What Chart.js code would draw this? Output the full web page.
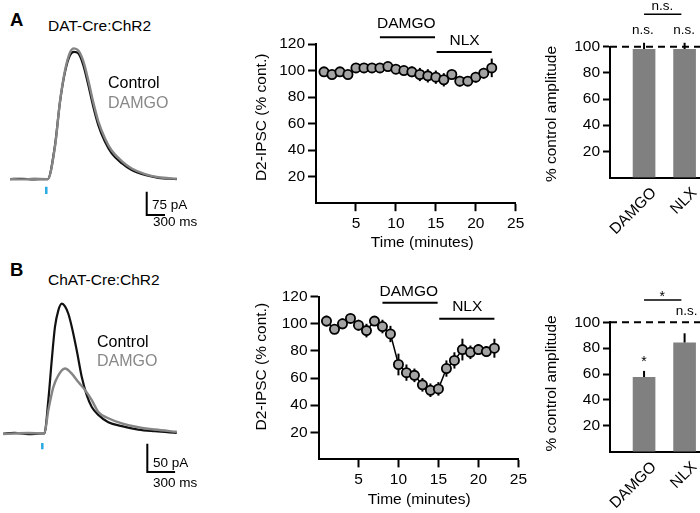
<!DOCTYPE html>
<html lang="en">
<head>
<meta charset="UTF-8">
<title>D2-IPSC DAMGO / NLX</title>
<script src="https://cdn.jsdelivr.net/npm/chart.js"></script>
<style>
  body { margin: 0; background: #fff; }
  #wrap { position: relative; width: 700px; height: 513px; overflow: hidden; font-family: "Liberation Sans", Arial, Helvetica, sans-serif; }
  canvas { position: absolute; }
  .lbl { position: absolute; white-space: nowrap; line-height: 1; transform: translateY(-50%); color: #000; }
  .letter { font-weight: bold; font-size: 18.5px; }
  .sub { font-size: 15.5px; }
  .leg { font-size: 16px; }
  .sc { font-size: 13.5px; }
  .grey { color: #888; }
</style>
</head>
<body>
<div id="wrap">
  <canvas id="traceA" width="200" height="190" style="left:0;top:40px"></canvas>
  <canvas id="timeA" width="290" height="256" style="left:240px;top:0"></canvas>
  <canvas id="barA" width="170" height="260" style="left:530px;top:0"></canvas>
  <canvas id="traceB" width="200" height="200" style="left:0;top:290px"></canvas>
  <canvas id="timeB" width="290" height="253" style="left:240px;top:260px"></canvas>
  <canvas id="barB" width="170" height="253" style="left:530px;top:260px"></canvas>

  <div class="lbl letter" style="left:10px;top:20px">A</div>
  <div class="lbl sub" style="left:48px;top:26px">DAT-Cre:ChR2</div>
  <div class="lbl leg" style="left:108px;top:83px">Control</div>
  <div class="lbl leg grey" style="left:108px;top:103px">DAMGO</div>
  <div class="lbl sc" style="left:152px;top:205px">75 pA</div>
  <div class="lbl sc" style="left:153px;top:222px">300 ms</div>

  <div class="lbl letter" style="left:10px;top:270px">B</div>
  <div class="lbl sub" style="left:48px;top:280px">ChAT-Cre:ChR2</div>
  <div class="lbl leg" style="left:97px;top:342px">Control</div>
  <div class="lbl leg grey" style="left:97px;top:361px">DAMGO</div>
  <div class="lbl sc" style="left:153px;top:463px">50 pA</div>
  <div class="lbl sc" style="left:153px;top:483px">300 ms</div>
</div>
<script>
// ---- data ----
// example traces (time in ms from light pulse, current in pA)
const ctrlA_t = [-595, -400, -200, 0, 23, 143, 225, 307, 389, 454, 525, 607, 689, 771, 853, 963, 1073, 1237, 1401, 1619, 1837, 2139];
const ctrlA   = [0, 1, -1, 0, 0, 109, 249, 345, 399, 410, 405, 367, 303, 233, 174, 120, 83, 51, 29, 13, 4, 0];
const damgoA  = [0, -1, 1, 0, 0, 105, 250, 350, 408, 421, 414, 380, 318, 247, 186, 131, 92, 58, 34, 16, 6, 1];

const ctrlB_t = [-421, -300, -150, 0, 22, 65, 102, 137, 173, 210, 245, 281, 318, 372, 426, 480, 534, 605, 713, 858, 1037, 1217, 1452];
const ctrlB   = [0, 1, -1, 0, 0, 59, 130, 189, 218, 230, 225, 212, 189, 147, 100, 68, 47, 33, 20, 13, 7, 4, 1];
const damgoB_t = [-421, -300, -150, 0, 22, 65, 119, 173, 245, 318, 389, 461, 534, 605, 713, 858, 1037, 1217, 1452];
const damgoB   = [-1, 0, 1, 0, 0, 41, 82, 103, 115, 106, 91, 77, 59, 38, 27, 18, 11, 7, 3];

// time course (% of control)
const minutes = [1, 2, 3, 4, 5, 6, 7, 8, 9, 10, 11, 12, 13, 14, 15, 16, 17, 18, 19, 20, 21, 22];
const ipscA    = [99, 97, 99, 97, 102, 102, 102, 102, 103, 101, 100, 99, 97, 96, 95, 93, 97, 92, 92, 95, 98, 102];
const ipscAErr = [2, 2, 2, 3, 2, 2, 2, 2, 2, 3, 3, 4, 5, 5, 5, 5, 3, 4, 3, 4, 4, 7];
const ipscB    = [102, 96, 100, 104, 99, 95, 102, 98, 92.5, 70, 64, 62, 55, 51, 52, 67, 73, 81, 79, 81, 79.5, 82];
const ipscBErr = [4, 3, 4, 3, 4, 5, 3, 5, 6, 8, 6, 5, 5, 5, 5, 6, 6, 8, 5, 4, 4, 7];
const drugs = ['DAMGO', 'NLX'];
const drugStart = [8, 15];
const drugEnd = [15, 22];
const timeTicks = [5, 10, 15, 20, 25];
const pctTicks = [20, 40, 60, 80, 100, 120];

// summary bars
const barTicks = [20, 40, 60, 80, 100];
const barA = [98, 98];
const barAErr = [5, 5];
const barB = [57.4, 84.2];
const barBErr = [5, 7.3];

// ---- helpers ----
const FONT = '"Liberation Sans", Arial, Helvetica, sans-serif';
Chart.defaults.font.family = FONT;
Chart.defaults.color = '#000';
Chart.defaults.animation = false;

const pts = (xs, ys) => xs.map((x, i) => ({x: x, y: ys[i]}));
const seg = (x0, x1, y) => [{x: x0, y: y}, {x: x1, y: y}];

const textPlugin = {
  id: 'texts',
  afterDraw(chart, args, opts) {
    const ctx = chart.ctx;
    (opts.items || []).forEach(it => {
      const x = chart.scales.x.getPixelForValue(it.x) + (it.dx || 0);
      const y = chart.scales.y.getPixelForValue(it.y) + (it.dy || 0);
      ctx.save();
      ctx.translate(x, y);
      ctx.rotate((it.rot || 0) * Math.PI / 180);
      ctx.font = (it.size || 15.5) + 'px ' + FONT;
      ctx.fillStyle = it.color || '#000';
      ctx.textAlign = it.align || 'center';
      ctx.textBaseline = it.baseline || 'middle';
      ctx.fillText(it.text, 0, 0);
      ctx.restore();
    });
  }
};

const errPlugin = {
  id: 'errbars',
  beforeDatasetsDraw(chart, args, opts) {
    if (!opts.errs) return;
    const ctx = chart.ctx, meta = chart.getDatasetMeta(opts.dataset || 0);
    const ys = chart.scales.y;
    ctx.save();
    ctx.strokeStyle = '#000';
    ctx.lineWidth = opts.width || 2;
    meta.data.forEach((el, i) => {
      const v = chart.data.datasets[opts.dataset || 0].data[i].y;
      const e = opts.errs[i];
      ctx.beginPath();
      ctx.moveTo(el.x, ys.getPixelForValue(opts.upOnly ? v : v - e));
      ctx.lineTo(el.x, ys.getPixelForValue(v + e));
      ctx.stroke();
    });
    ctx.restore();
  }
};
Chart.register(textPlugin, errPlugin);

const axisStyle = (tickLen) => ({
  grid: {display: true, drawOnChartArea: false, drawTicks: tickLen > 0, tickLength: tickLen, tickWidth: 2, color: '#000'},
  border: {display: true, width: 2, color: '#000'}
});

// ---- example traces ----
function traceChart(id, ct, c, dt, d, bar, stim, xr, yr) {
  new Chart(document.getElementById(id), {
    type: 'line',
    data: {
      datasets: [
        {data: pts(dt, d), borderColor: '#858585', borderWidth: 2.4, pointRadius: 0, cubicInterpolationMode: 'monotone'},
        {data: pts(ct, c), borderColor: '#111', borderWidth: 2.2, pointRadius: 0, cubicInterpolationMode: 'monotone'},
        {data: bar, borderColor: '#000', borderWidth: 2, pointRadius: 0, tension: 0},
        {data: stim, borderColor: '#29abe2', borderWidth: 2.5, pointRadius: 0, tension: 0}
      ]
    },
    options: {
      responsive: false,
      layout: {padding: 0},
      plugins: {legend: {display: false}, tooltip: {enabled: false}},
      scales: {
        x: {type: 'linear', display: false, min: xr[0], max: xr[1]},
        y: {type: 'linear', display: false, min: yr[0], max: yr[1]}
      }
    }
  });
}
traceChart('traceA', ctrlA_t, ctrlA, ctrlA_t, damgoA,
  [{x: 1647, y: -41}, {x: 1647, y: -116}, {x: 1947, y: -116}],
  [{x: 0, y: -25}, {x: 0, y: -48}], [-759, 2521], [-164, 448]);
traceChart('traceB', ctrlB_t, ctrlB, damgoB_t, damgoB,
  [{x: 1134, y: -18}, {x: 1134, y: -68}, {x: 1434, y: -68}],
  [{x: 0, y: -17}, {x: 0, y: -28}], [-457, 1703], [-100, 254]);

// ---- time courses ----
function timeChart(id, vals, errs, box, drugY, labelY, titleX, titleY, xTitle) {
  new Chart(document.getElementById(id), {
    type: 'line',
    data: {
      datasets: [
        {data: pts(minutes, vals), borderColor: '#000', borderWidth: 1.5, tension: 0,
         pointRadius: 4.6, pointBorderWidth: 1.8, pointBackgroundColor: '#a3a3a3', pointBorderColor: '#000'},
        {data: seg(drugStart[0], drugEnd[0] - 0.1, drugY[0]), borderColor: '#000', borderWidth: 2, pointRadius: 0, clip: false},
        {data: seg(drugStart[1] + 0.1, drugEnd[1], drugY[1]), borderColor: '#000', borderWidth: 2, pointRadius: 0, clip: false}
      ]
    },
    options: {
      responsive: false,
      layout: {padding: {top: box.top, right: box.right, left: 0, bottom: 0}},
      plugins: {
        legend: {display: false}, tooltip: {enabled: false},
        errbars: {dataset: 0, errs: errs, width: 2},
        texts: {items: [
          {text: drugs[0], x: 11.3, y: labelY[0]},
          {text: drugs[1], x: 18.6, y: labelY[1]},
          {text: 'D2-IPSC (% cont.)', x: titleX, y: titleY, rot: -90},
          {text: 'Time (minutes)', x: xTitle[0], y: xTitle[1]}
        ]}
      },
      scales: {
        x: Object.assign({type: 'linear', min: 0, max: 25,
          afterFit: s => { s.height = box.xh; },
          afterBuildTicks: s => { s.ticks = timeTicks.map(v => ({value: v})); },
          ticks: {padding: 3, font: {size: 15.5}}}, axisStyle(8)),
        y: Object.assign({type: 'linear', min: 0, max: 120,
          afterFit: s => { s.width = box.yw; },
          afterBuildTicks: s => { s.ticks = pctTicks.map(v => ({value: v})); },
          ticks: {padding: 3, font: {size: 15.5}}}, axisStyle(8))
      }
    }
  });
}
timeChart('timeA', ipscA, ipscAErr, {top: 44, right: 14.3, xh: 52.8, yw: 76},
  [125, 114], [135, 122.5], -6.8, 64.7, [13.3, -29.8]);
timeChart('timeB', ipscB, ipscBErr, {top: 36.7, right: 10.2, xh: 53.6, yw: 78.5},
  [115.6, 103.8], [123.7, 112.6], -7.05, 68.4, [12.6, -30]);

// ---- summary bars ----
function barChart(id, vals, errs, box, titleY, marks, bracketY) {
  new Chart(document.getElementById(id), {
    type: 'bar',
    data: {
      datasets: [
        {data: pts([1, 2], vals), backgroundColor: '#808080', barThickness: 22, grouped: false},
        {type: 'line', data: seg(0.16, 2.4, 100), borderColor: '#000', borderWidth: 2, borderDash: [7, 5], pointRadius: 0, clip: false},
        {type: 'line', data: seg(1, 1.92, bracketY), borderColor: '#000', borderWidth: 1.5, pointRadius: 0, clip: false}
      ]
    },
    options: {
      responsive: false,
      layout: {padding: {top: box.top, right: 0, left: 0, bottom: 0}},
      plugins: {
        legend: {display: false}, tooltip: {enabled: false},
        errbars: {dataset: 0, errs: errs, width: 2, upOnly: true},
        texts: {items: [
          {text: '% control amplitude', x: -1.28, y: titleY, rot: -90},
          {text: drugs[0], x: 1, dx: 10, y: 0, dy: 13, rot: -45, align: 'right'},
          {text: drugs[1], x: 2, dx: 10, y: 0, dy: 13, rot: -45, align: 'right'}
        ].concat(marks)}
      },
      scales: {
        x: Object.assign({type: 'linear', min: 0.16, max: 2.38, offset: false,
          afterFit: s => { s.height = box.xh; },
          ticks: {display: false}}, axisStyle(0), {grid: {display: false, offset: false}}),
        y: Object.assign({type: 'linear', min: 0, max: 100,
          afterFit: s => { s.width = 80; },
          afterBuildTicks: s => { s.ticks = barTicks.map(v => ({value: v})); },
          ticks: {padding: 3, font: {size: 15.5}}}, axisStyle(7))
      }
    }
  });
}
barChart('barA', barA, barAErr, {top: 46.7, xh: 82.5}, 48.5, [
  {text: 'n.s.', x: 0.97, y: 112.2, size: 13.5},
  {text: 'n.s.', x: 1.99, y: 112.2, size: 13.5},
  {text: 'n.s.', x: 1.45, y: 131, size: 13.5}
], 124.8);
barChart('barB', barB, barBErr, {top: 62.3, xh: 61.4}, 52.8, [
  {text: '*', x: 1, y: 69, size: 14},
  {text: 'n.s.', x: 2.05, y: 108.2, size: 13.5},
  {text: '*', x: 1.45, y: 119.5, size: 14}
], 117.2);
</script>
</body>
</html>
